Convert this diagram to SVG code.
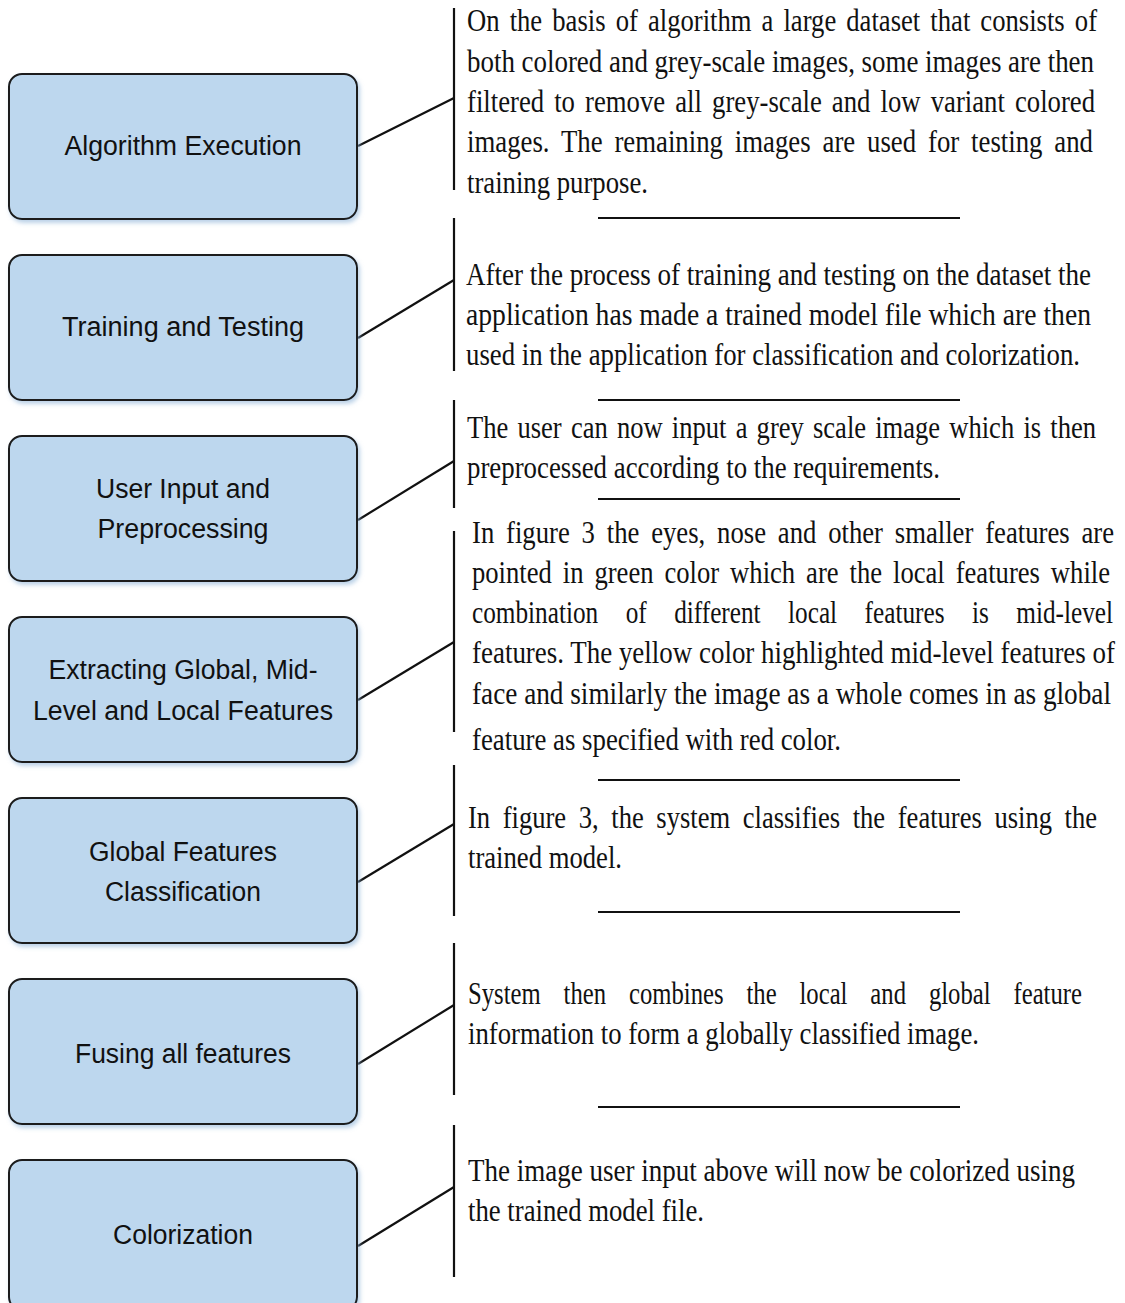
<svg xmlns="http://www.w3.org/2000/svg" width="1125" height="1303" viewBox="0 0 1125 1303">
<defs>
<filter id="sh" x="-5%" y="-5%" width="115%" height="120%">
<feDropShadow dx="2" dy="3" stdDeviation="2" flood-color="#8fb4d8" flood-opacity="0.6"/>
</filter>
</defs>
<style>
.box{fill:#BDD7EE;stroke:#1a1a1a;stroke-width:2;filter:url(#sh)}
.lbl{font-family:"Liberation Sans",Arial,sans-serif;font-size:27px;fill:#111;text-anchor:middle}
.desc{font-family:"Liberation Serif","Times New Roman",serif;font-size:31px;fill:#111}
.ln{stroke:#111;stroke-width:2.2;fill:none}
</style>
<rect width="1125" height="1303" fill="#fff"/>
<g id="connectors">
<path class="ln" d="M358,146 L454,98"/>
<path class="ln" d="M454,8 V190"/>
<path class="ln" d="M358,338 L454,280"/>
<path class="ln" d="M454,218 V371"/>
<path class="ln" d="M358,520 L454,461"/>
<path class="ln" d="M454,400 V508"/>
<path class="ln" d="M358,700 L454,642"/>
<path class="ln" d="M454,531 V732"/>
<path class="ln" d="M358,882 L454,824"/>
<path class="ln" d="M454,765 V916"/>
<path class="ln" d="M358,1064 L454,1005"/>
<path class="ln" d="M454,943 V1095"/>
<path class="ln" d="M358,1246 L454,1187"/>
<path class="ln" d="M454,1125 V1277"/>
<path class="ln" d="M598,218 H960 M598,400 H960 M598,499 H960 M598,780 H960 M598,912 H960 M598,1107 H960"/>
</g>
<g id="n1"><rect class="box" x="9" y="74" width="348" height="145" rx="13"/>
<text class="lbl" x="183" y="155" textLength="237" lengthAdjust="spacingAndGlyphs">Algorithm Execution</text></g>
<g id="n2"><rect class="box" x="9" y="255" width="348" height="145" rx="13"/>
<text class="lbl" x="183" y="336" textLength="242" lengthAdjust="spacingAndGlyphs">Training and Testing</text></g>
<g id="n3"><rect class="box" x="9" y="436" width="348" height="145" rx="13"/>
<text class="lbl" x="183" y="498" textLength="174" lengthAdjust="spacingAndGlyphs">User Input and</text>
<text class="lbl" x="183" y="538" textLength="171" lengthAdjust="spacingAndGlyphs">Preprocessing</text></g>
<g id="n4"><rect class="box" x="9" y="617" width="348" height="145" rx="13"/>
<text class="lbl" x="183" y="679" textLength="269" lengthAdjust="spacingAndGlyphs">Extracting Global, Mid-</text>
<text class="lbl" x="183" y="720" textLength="300" lengthAdjust="spacingAndGlyphs">Level and Local Features</text></g>
<g id="n5"><rect class="box" x="9" y="798" width="348" height="145" rx="13"/>
<text class="lbl" x="183" y="861" textLength="188" lengthAdjust="spacingAndGlyphs">Global Features</text>
<text class="lbl" x="183" y="901" textLength="156" lengthAdjust="spacingAndGlyphs">Classification</text></g>
<g id="n6"><rect class="box" x="9" y="979" width="348" height="145" rx="13"/>
<text class="lbl" x="183" y="1063" textLength="216" lengthAdjust="spacingAndGlyphs">Fusing all features</text></g>
<g id="n7"><rect class="box" x="9" y="1160" width="348" height="150" rx="13"/>
<text class="lbl" x="183" y="1244" textLength="140" lengthAdjust="spacingAndGlyphs">Colorization</text></g>
<g id="d1">
<text class="desc" x="467" y="31" word-spacing="4" textLength="630" lengthAdjust="spacingAndGlyphs">On the basis of algorithm a large dataset that consists of</text>
<text class="desc" x="467" y="72" textLength="627" lengthAdjust="spacingAndGlyphs">both colored and grey-scale images, some images are then</text>
<text class="desc" x="467" y="112" word-spacing="4" textLength="628" lengthAdjust="spacingAndGlyphs">filtered to remove all grey-scale and low variant colored</text>
<text class="desc" x="467" y="152" word-spacing="6" textLength="626" lengthAdjust="spacingAndGlyphs">images. The remaining images are used for testing and</text>
<text class="desc" x="467" y="193" textLength="181" lengthAdjust="spacingAndGlyphs">training purpose.</text>
</g>
<g id="d2">
<text class="desc" x="466" y="285" textLength="625" lengthAdjust="spacingAndGlyphs">After the process of training and testing on the dataset the</text>
<text class="desc" x="466" y="325" textLength="625" lengthAdjust="spacingAndGlyphs">application has made a trained model file which are then</text>
<text class="desc" x="466" y="365" textLength="614" lengthAdjust="spacingAndGlyphs">used in the application for classification and colorization.</text>
</g>
<g id="d3">
<text class="desc" x="467" y="438" word-spacing="3" textLength="629" lengthAdjust="spacingAndGlyphs">The user can now input a grey scale image which is then</text>
<text class="desc" x="467" y="478" textLength="473" lengthAdjust="spacingAndGlyphs">preprocessed according to the requirements.</text>
</g>
<g id="d4">
<text class="desc" x="472" y="543" word-spacing="6" textLength="642" lengthAdjust="spacingAndGlyphs">In figure 3 the eyes, nose and other smaller features are</text>
<text class="desc" x="472" y="583" word-spacing="5" textLength="638" lengthAdjust="spacingAndGlyphs">pointed in green color which are the local features while</text>
<text class="desc" x="472" y="623" word-spacing="26" textLength="641" lengthAdjust="spacingAndGlyphs">combination of different local features is mid-level</text>
<text class="desc" x="472" y="663" textLength="643" lengthAdjust="spacingAndGlyphs">features. The yellow color highlighted mid-level features of</text>
<text class="desc" x="472" y="704" textLength="639" lengthAdjust="spacingAndGlyphs">face and similarly the image as a whole comes in as global</text>
<text class="desc" x="472" y="750" textLength="369" lengthAdjust="spacingAndGlyphs">feature as specified with red color.</text>
</g>
<g id="d5">
<text class="desc" x="468" y="828" word-spacing="7" textLength="629" lengthAdjust="spacingAndGlyphs">In figure 3, the system classifies the features using the</text>
<text class="desc" x="468" y="868" textLength="154" lengthAdjust="spacingAndGlyphs">trained model.</text>
</g>
<g id="d6">
<text class="desc" x="468" y="1004" word-spacing="21" textLength="614" lengthAdjust="spacingAndGlyphs">System then combines the local and global feature</text>
<text class="desc" x="468" y="1044" textLength="511" lengthAdjust="spacingAndGlyphs">information to form a globally classified image.</text>
</g>
<g id="d7">
<text class="desc" x="468" y="1181" textLength="607" lengthAdjust="spacingAndGlyphs">The image user input above will now be colorized using</text>
<text class="desc" x="468" y="1221" textLength="236" lengthAdjust="spacingAndGlyphs">the trained model file.</text>
</g>
</svg>
